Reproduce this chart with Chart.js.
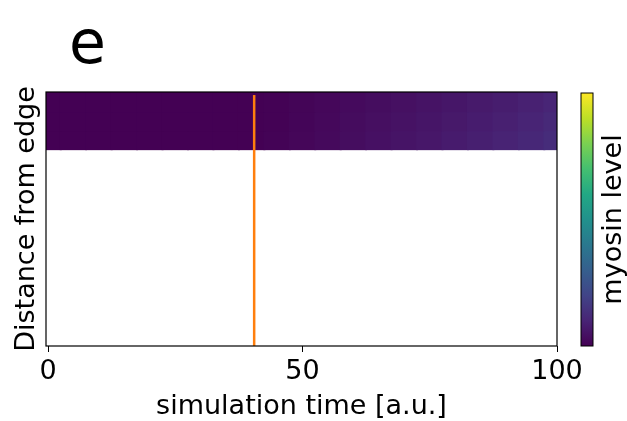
<!DOCTYPE html>
<html>
<head>
<meta charset="utf-8">
<script src="https://cdn.jsdelivr.net/npm/chart.js@4/dist/chart.umd.min.js"></script>
<style>
  html, body { margin: 0; padding: 0; background: #fff; }
  #wrap { width: 627px; height: 421px; }
</style>
</head>
<body>
<div id="wrap"><canvas id="c" width="627" height="421"></canvas></div>
<script>
// simulation time of each heatmap column
const timePoints = [0, 5, 10, 15, 20, 25, 30, 35, 40, 45, 50, 55, 60, 65, 70, 75, 80, 85, 90, 95, 100];
// distance bands (top row = closest to the edge)
const rowBands = [[92.5, 100], [85, 92.5], [77.5, 85]];
// normalised myosin level per band and column
const myosinEdge = [0, 0, 0, 0, 0, 0, 0, 0, 0, 0.003, 0.01, 0.018, 0.026, 0.034, 0.043, 0.052, 0.061, 0.07, 0.08, 0.091, 0.104];
const myosinMid  = [0, 0, 0, 0, 0, 0, 0, 0, 0, 0.004, 0.012, 0.021, 0.03, 0.039, 0.048, 0.058, 0.068, 0.078, 0.089, 0.1, 0.115];
const myosinDeep = [0, 0, 0, 0, 0, 0, 0, 0, 0.001, 0.006, 0.015, 0.024, 0.034, 0.044, 0.054, 0.064, 0.075, 0.086, 0.098, 0.11, 0.126];
const myosinRows = [myosinEdge, myosinMid, myosinDeep];
// x tick labels
const xTicks = [0, 50, 100];
// time of the marked event and its vertical extent
const eventTime = 40.5;
const eventSpan = [0, 98.8];

// viridis colormap anchors at 0, 0.1, ..., 1
const viridisStops = ['#440154', '#482475', '#414487', '#355f8d', '#2a788e', '#21918c',
                      '#22a884', '#44bf70', '#7ad151', '#bddf26', '#fde725'];
function hexToRgb(h) {
  return [parseInt(h.slice(1, 3), 16), parseInt(h.slice(3, 5), 16), parseInt(h.slice(5, 7), 16)];
}
function viridis(v) {
  v = Math.max(0, Math.min(1, v));
  const p = v * 10, i = Math.min(9, Math.floor(p)), f = p - i;
  const a = hexToRgb(viridisStops[i]), b = hexToRgb(viridisStops[i + 1]);
  const c = a.map((x, k) => Math.round(x + (b[k] - x) * f));
  return 'rgb(' + c.join(',') + ')';
}

const FONT = 'DejaVu Sans';

const datasets = myosinRows.map((vals, r) => ({
  type: 'bar',
  data: timePoints.map(t => ({ x: t, y: rowBands[r] })),
  backgroundColor: vals.map(viridis),
  borderWidth: 0,
  inflateAmount: 1,
  grouped: false,
  barPercentage: 1,
  categoryPercentage: 1,
  order: 2
}));
datasets.push({
  type: 'line',
  data: eventSpan.map(y => ({ x: eventTime, y })),
  borderColor: '#ff7f0e',
  borderWidth: 2.5,
  pointRadius: 0,
  fill: false,
  order: 0
});

const extras = {
  id: 'extras',
  afterDraw(chart) {
    const ctx = chart.ctx, a = chart.chartArea;
    ctx.save();
    // axes frame
    ctx.strokeStyle = '#000';
    ctx.lineWidth = 1.2;
    ctx.strokeRect(a.left, a.top, a.right - a.left, a.bottom - a.top);

    // panel letter
    ctx.fillStyle = '#000';
    ctx.font = '60px "' + FONT + '"';
    ctx.textAlign = 'left';
    ctx.textBaseline = 'alphabetic';
    ctx.fillText('e', 69, 63);

    // axis titles
    ctx.font = '27px "' + FONT + '"';
    ctx.textAlign = 'center';
    ctx.fillText('simulation time [a.u.]', (a.left + a.right) / 2, 414);
    ctx.save();
    ctx.translate(34, (a.top + a.bottom) / 2);
    ctx.rotate(-Math.PI / 2);
    ctx.fillText('Distance from edge', 0, 0);
    ctx.restore();

    // colorbar
    const cbL = 581, cbR = 593, cbT = a.top + 1, cbB = a.bottom;
    const g = ctx.createLinearGradient(0, cbB, 0, cbT);
    viridisStops.forEach((c, i) => g.addColorStop(i / 10, c));
    ctx.fillStyle = g;
    ctx.fillRect(cbL, cbT, cbR - cbL, cbB - cbT);
    ctx.strokeStyle = '#000';
    ctx.lineWidth = 1;
    ctx.strokeRect(cbL, cbT, cbR - cbL, cbB - cbT);
    ctx.fillStyle = '#000';
    ctx.save();
    ctx.translate(621, (cbT + cbB) / 2);
    ctx.rotate(-Math.PI / 2);
    ctx.textAlign = 'center';
    ctx.fillText('myosin level', 0, 0);
    ctx.restore();
    ctx.restore();
  }
};

new Chart(document.getElementById('c'), {
  data: { datasets },
  options: {
    responsive: false,
    animation: false,
    devicePixelRatio: 1,
    layout: { padding: { top: 92, right: 70, left: 0, bottom: 0 } },
    plugins: { legend: { display: false }, tooltip: { enabled: false } },
    scales: {
      x: {
        type: 'linear',
        min: -0.4,
        max: 100,
        offset: false,
        afterFit(s) { s.height = 75; },
        afterBuildTicks(s) { s.ticks = xTicks.map(v => ({ value: v })); },
        border: { display: false },
        grid: { display: true, offset: false, drawOnChartArea: false, drawTicks: true, tickLength: 6, color: '#000', lineWidth: 1 },
        ticks: { color: '#000', font: { family: FONT, size: 27 }, padding: 4, maxRotation: 0 }
      },
      y: {
        type: 'linear',
        min: 0,
        max: 100,
        afterFit(s) { s.width = 46; },
        border: { display: false },
        grid: { display: false },
        ticks: { display: false }
      }
    }
  },
  plugins: [extras]
});
</script>
</body>
</html>
